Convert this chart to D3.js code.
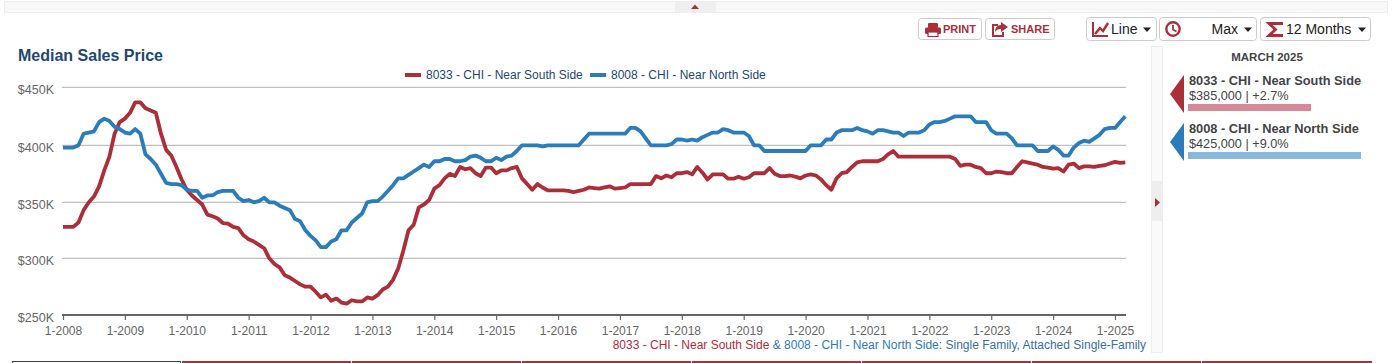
<!DOCTYPE html>
<html>
<head>
<meta charset="utf-8">
<script src="https://cdn.jsdelivr.net/npm/d3@7"></script>
<style>
  html, body { margin: 0; padding: 0; background: #fff; overflow: hidden; }
  text { font-family: "Liberation Sans", Arial, sans-serif; }
</style>
</head>
<body>
<svg id="chart"></svg>
<script>
const yearTicks = ['1-2008','1-2009','1-2010','1-2011','1-2012','1-2013','1-2014','1-2015','1-2016','1-2017','1-2018','1-2019','1-2020','1-2021','1-2022','1-2023','1-2024','1-2025'];
const priceTicks = [250, 300, 350, 400, 450];

// monthly median price in $K, one row per year, Jan 2008 to Mar 2025
const nearSouth = [
  328,328,328,332,343,350,355,364,378,390,410,420,
  423,428,437,437,432,430,428,410,396,391,381,370,
  361,356,352,348,339,337.5,335.5,331.5,331,328,327,320.5,
  317,315,312,309,300,295,292,285,283,280,277,275,
  275,270.5,265.5,268,262.5,264.5,261,260,263,262,262,265.5,
  264.5,267.5,272.5,275,281,291,307,325,330,345.5,348,352,
  362,365,371,375,373,381,379,380,375.5,373,380.5,380.5,
  375.5,378,378,380,381,371,366,361,366,363,360.5,360.5,
  360.5,360.5,360,359,360,361,363,362.5,362,363,364,362,
  362.5,363,366,366,366,366,366,373,371,373.5,372,375.5,
  375.5,376.5,374.5,381,376,370,374.5,374.5,374.5,370.7,370.7,372.5,
  370.7,372,375.5,375.5,375.5,380,375,373,373,373.5,372.5,371,
  373.5,374.5,373.5,370,365,361,371,375.5,376.5,381,385,386,
  386,386,386,388,392,395,390,390,390,390,390,390,
  390,390,390,390,390,388,382,383,383,381,380,375.5,
  375.5,377,376.5,375.5,375.5,381,386,385,384,383,381,380.5,
  379.5,380,377,383,384,380,381.5,381.5,381,382,382.5,384,
  385.5,384.5,385
];
const nearNorth = [
  398,398,398,400,410,411,412,420,423,421,416,414,
  411,410,414,410,392,388,383,375,367,366,366,365,
  361,360,360,354,356,356,359,360,360,360,354,351,
  352,350,351,354,350,350,347,345,343,335,333,325,
  320,316,310,310,315,317,325,325,332,336,340,350,
  351,351,355,360,365,371,371,374,377,380,383,381,
  386,386,388,388,386,386,387,390,391,389,386,386,
  389,387,390,391,395,400,400,400,400,399,400,400,
  400,400,400,400,400,405,410,410,410,410,410,410,
  410,410,415,415,412,406,400,400,400,400,401,405,
  405,404,405,404,407,409,411,411,414,413,411,411,
  411,408,400,400,395,395,395,395,395,395,395,395,
  395,400,400,400,405,405,411,413,413,413,415,413,
  412,410,413,413,412,411,411,408,411,411,411,413,
  418,420,420,421,423,425,425,425,425,420,420,420,
  413,410,410,410,406,400,400,400,400,395,395,395,
  399,396,391,391,398,402,404,403,406,409,414,415,
  415,420,425
];

const seriesNames = ['8033 - CHI - Near South Side', '8008 - CHI - Near North Side'];
const seriesColors = ['#ab2e38', '#2a7cbb'];
const paleColors = ['#d48a98', '#88b8dc'];
const latestValues = ['$385,000 | +2.7%', '$425,000 | +9.0%'];

const width = 1392, height = 363;
const navy = '#1f4770', grey = '#666', darkText = '#444';

const svg = d3.select('#chart')
  .attr('width', width)
  .attr('height', height)
  .style('display', 'block');

// page furniture: top strip and collapse tab
svg.append('rect').attr('x', 4.5).attr('y', 1.5).attr('width', 1383).attr('height', 11)
  .attr('fill', '#f8f8f8').attr('stroke', '#eee');
svg.append('rect').attr('x', 675).attr('y', 2).attr('width', 41).attr('height', 10).attr('fill', '#efefef');
svg.append('path').attr('d', 'M691 9L695 4.5L699 9Z').attr('fill', seriesColors[0]);

// chart
const x = d3.scaleLinear().domain([0, 204]).range([63, 1115]);
// gridlines in the picture are not quite evenly spaced, so the scale has a knot per tick
const y = d3.scaleLinear().domain(priceTicks).range([315, 258.3, 202.3, 145.3, 87.3]);

svg.append('text').attr('x', 18).attr('y', 61).text('Median Sales Price')
  .attr('font-size', 16).attr('font-weight', 'bold').attr('fill', navy);

const yAxis = d3.axisLeft(y).tickValues(priceTicks).tickSize(0).tickPadding(8)
  .tickFormat(d => '$' + d + 'K');
const yG = svg.append('g').attr('transform', 'translate(62,0)').call(yAxis);
yG.select('.domain').remove();
yG.selectAll('text').attr('font-size', 12.5).attr('fill', grey)
  .attr('font-family', '"Liberation Sans", Arial, sans-serif').attr('dy', '0.55em');
yG.selectAll('text').attr('y', -0.5);

svg.append('g').selectAll('line')
  .data(priceTicks.slice(1))
  .enter()
  .append('line')
  .attr('x1', 62).attr('x2', 1126)
  .attr('y1', d => y(d)).attr('y2', d => y(d))
  .attr('stroke', '#b0b0b0').attr('stroke-width', 1);

const xAxis = d3.axisBottom(x)
  .tickValues(yearTicks.map((d, i) => i * 12))
  .tickFormat((d, i) => yearTicks[i])
  .tickSize(5).tickSizeOuter(0).tickPadding(6.5);
const xG = svg.append('g').attr('transform', 'translate(0,315)').call(xAxis);
xG.select('.domain').remove();
xG.selectAll('line').attr('stroke', '#666').attr('stroke-width', 1.2);
xG.selectAll('text').attr('font-size', 12).attr('fill', grey)
  .attr('font-family', '"Liberation Sans", Arial, sans-serif');
svg.append('line').attr('x1', 62).attr('x2', 1126).attr('y1', 315).attr('y2', 315)
  .attr('stroke', '#666').attr('stroke-width', 2);

const line = d3.line().x((d, i) => x(i)).y(d => y(d));
[nearSouth, nearNorth].forEach((values, i) => {
  svg.append('path').datum(values)
    .attr('d', line)
    .attr('fill', 'none')
    .attr('stroke', seriesColors[i])
    .attr('stroke-width', 3.8)
    .attr('stroke-linejoin', 'round');
});

// legend
[[405, 426], [590, 611]].forEach((pos, i) => {
  svg.append('rect').attr('x', pos[0]).attr('y', 73).attr('width', 16).attr('height', 4).attr('fill', seriesColors[i]);
  svg.append('text').attr('x', pos[1]).attr('y', 79).text(seriesNames[i])
    .attr('font-size', 12).attr('fill', navy);
});

// caption under the axis
const caption = svg.append('text').attr('x', 1146).attr('y', 349).attr('text-anchor', 'end').attr('font-size', 12);
caption.append('tspan').text(seriesNames[0]).attr('fill', '#b52b3c');
caption.append('tspan').text(' & ').attr('fill', '#3a6ea5');
caption.append('tspan').text(seriesNames[1]).attr('fill', '#2a7cbb');
caption.append('tspan').text(': Single Family, Attached Single-Family').attr('fill', '#3a6ea5');

// sidebar gutter with collapse handle
svg.append('rect').attr('x', 1151.5).attr('y', 46.5).attr('width', 11).attr('height', 306)
  .attr('fill', '#fafafa').attr('stroke', '#eee');
svg.append('rect').attr('x', 1152).attr('y', 181).attr('width', 10).attr('height', 40).attr('fill', '#eee');
svg.append('path').attr('d', 'M1155 198L1160 202.500L1155 207Z').attr('fill', seriesColors[0]);

// latest values panel
svg.append('text').attr('x', 1267).attr('y', 61).attr('text-anchor', 'middle').text('MARCH 2025')
  .attr('font-size', 11.5).attr('font-weight', 'bold').attr('fill', darkText);
seriesNames.forEach((name, i) => {
  const top = 75 + i * 48;
  svg.append('path').attr('d', `M1170 ${top + 19}L1184 ${top}V${top + 38}Z`).attr('fill', seriesColors[i]);
  svg.append('text').attr('x', 1189).attr('y', top + 10).text(name)
    .attr('font-size', 12.8).attr('font-weight', 'bold').attr('fill', darkText);
  svg.append('text').attr('x', 1189).attr('y', top + 25).text(latestValues[i])
    .attr('font-size', 12.7).attr('fill', darkText);
  svg.append('rect').attr('x', 1188).attr('y', top + 29).attr('height', 7)
    .attr('width', i === 0 ? 123 : 173).attr('fill', paleColors[i]);
});

// toolbar buttons
function button(bx, by, w, h) {
  svg.append('rect').attr('x', bx + 0.5).attr('y', by + 0.5).attr('width', w).attr('height', h).attr('rx', 3)
    .attr('fill', '#fff').attr('stroke', '#ccc');
}
const red = seriesColors[0];
button(918, 18, 63, 21);
button(985, 18, 69, 21);
svg.append('text').attr('x', 943).attr('y', 33).text('PRINT').attr('font-size', 11).attr('font-weight', 'bold').attr('fill', red);
svg.append('text').attr('x', 1011).attr('y', 33).text('SHARE').attr('font-size', 11).attr('font-weight', 'bold').attr('fill', red);
// printer icon
svg.append('rect').attr('x', 928).attr('y', 23).attr('width', 10).attr('height', 5).attr('rx', 1).attr('fill', red);
svg.append('rect').attr('x', 925).attr('y', 27.5).attr('width', 16).attr('height', 6.500).attr('rx', 1.5).attr('fill', red);
svg.append('rect').attr('x', 928).attr('y', 32).attr('width', 10).attr('height', 4.500).attr('fill', '#fff').attr('stroke', red).attr('stroke-width', 1.2);
// share icon
svg.append('path').attr('fill', 'none').attr('stroke', red).attr('stroke-width', 2)
  .attr('d', 'M1003 32v4h-10v-11h5');
svg.append('path').attr('fill', red).attr('d', 'M1001 22l7 5-7 5v-3c-3 0-5 1-6 3 0-4 2-7 6-7Z');

button(1086, 17, 70, 23);
button(1159, 17, 97, 23);
button(1260, 17, 110, 23);
[[1111, 'Line', 1143], [1211.5, 'Max', 1244], [1286, '12 Months', 1358]].forEach(d => {
  svg.append('text').attr('x', d[0]).attr('y', 34).text(d[1]).attr('font-size', 14).attr('fill', '#222');
  svg.append('path').attr('d', `M${d[2]} 27.500h8l-4 4.500Z`).attr('fill', '#222');
});
// line chart icon
svg.append('path').attr('fill', 'none').attr('stroke', red).attr('stroke-width', 2)
  .attr('d', 'M1093 22V36H1108');
svg.append('path').attr('fill', 'none').attr('stroke', red).attr('stroke-width', 2.4)
  .attr('d', 'M1095 34L1100 28L1103 31L1108 23');
// clock icon
svg.append('circle').attr('cx', 1173).attr('cy', 29).attr('r', 6.7).attr('fill', 'none').attr('stroke', red).attr('stroke-width', 2.4);
svg.append('path').attr('fill', 'none').attr('stroke', red).attr('stroke-width', 1.8).attr('d', 'M1173 25V29.500L1176.500 31.500');
// sigma icon
svg.append('path').attr('fill', 'none').attr('stroke', red).attr('stroke-width', 2.8)
  .attr('d', 'M1283 23.500H1269L1275.500 29.500L1269 35.500H1283');

// tabs along the bottom edge
const tabEdges = [182, 352, 522, 692, 862, 1032, 1202, 1373];
svg.append('rect').attr('x', 12.5).attr('y', 361.5).attr('width', 168).attr('height', 4).attr('fill', '#fff').attr('stroke', '#444');
d3.pairs(tabEdges).forEach(p => {
  svg.append('rect').attr('x', p[0]).attr('y', 361).attr('width', p[1] - p[0] - 1).attr('height', 2).attr('fill', seriesColors[0]);
});
</script>
</body>
</html>
